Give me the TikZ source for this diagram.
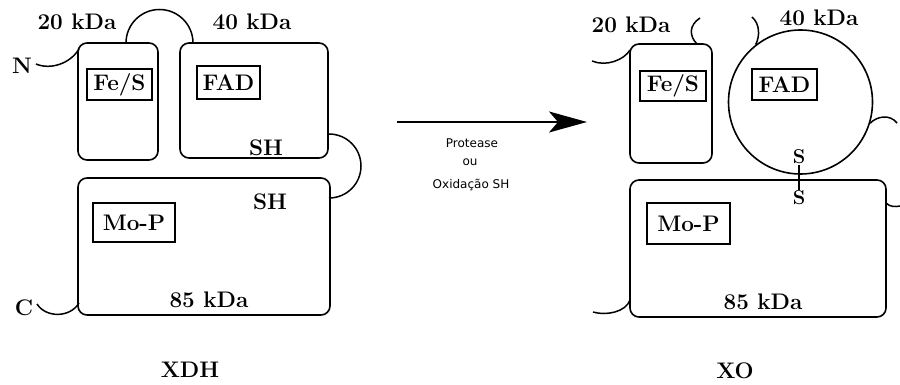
\documentclass[tikz,border=0pt]{standalone}
\usepackage{fontspec}
\newfontfamily\sansf{DejaVu Sans}
\usetikzlibrary{arrows.meta}
\begin{document}
\begin{tikzpicture}[x=1pt,y=-1pt,line width=1.6pt,
  blk/.style={draw,rounded corners=9pt,inner sep=0pt},
  inbox/.style={draw,inner sep=0pt,font=\fontsize{22.5}{24}\selectfont\bfseries},
  lbl/.style={inner sep=0pt,font=\fontsize{22.5}{24}\selectfont\bfseries},
  slbl/.style={inner sep=0.5pt,font=\fontsize{20}{22}\selectfont\bfseries},
  note/.style={inner sep=0pt,font=\sansf\fontsize{12}{13}\selectfont},
  link/.style={line width=1.5pt}]
\useasboundingbox (0,0) rectangle (900,385);
% ---------- XDH (left) ----------
\node[blk,minimum width=80pt,minimum height=117pt] (fesL) at (118,101.5) {};
\node[blk,minimum width=148pt,minimum height=115pt] (fadL) at (254,100.5) {};
\node[blk,minimum width=252pt,minimum height=137pt] (mopL) at (204,246.5) {};
\node[inbox,minimum width=65pt,minimum height=31pt] (fesLi) at (119.5,84.5) {Fe/S};
\node[inbox,minimum width=63pt,minimum height=33pt] (fadLi) at (228.5,82.5) {FAD};
\node[inbox,minimum width=82pt,minimum height=39pt] (mopLi) at (134,222.5) {Mo-P};
\node[lbl] (kd20L) at (77,22) {20 kDa};
\node[lbl] (kd40L) at (252,22) {40 kDa};
\node[lbl] (shA) at (266,148) {SH};
\node[lbl] (shB) at (270,202) {SH};
\node[lbl] (kd85L) at (209,300) {85 kDa};
\node[lbl] (nL) at (22,66) {N};
\node[lbl] (cL) at (24,308) {C};
\node[lbl] (xdh) at (190,370) {XDH};
\coordinate (a1) at (126,43);
\coordinate (b1) at (329,134);
\coordinate (n1) at (36,64);
\coordinate (n2) at (79,49);
\coordinate (c1) at (37,304);
\coordinate (c2) at (79,303);
\draw[link] (a1) arc[start angle=180,end angle=360,radius=33.5];
\draw[link] (b1) arc[start angle=-90,end angle=90,radius=32];
\draw[link] (n1) .. controls (50,70) and (70,64) .. (n2);
\draw[link] (c1) .. controls (46,318) and (70,318) .. (c2);
% ---------- arrow ----------
\coordinate (arS) at (397,122);
\coordinate (arE) at (587,122);
\draw[line width=2pt,-{Stealth[length=38pt,width=21pt,inset=9pt]}] (arS) -- (arE);
\node[note] (t1) at (472,143) {Protease};
\node[note] (t2) at (470,162) {ou};
\node[note] (t3) at (471,185) {Oxidação SH};
% ---------- XO (right) ----------
\node[blk,minimum width=82pt,minimum height=119pt] (fesR) at (671,103.5) {};
\node[draw,circle,inner sep=0pt,minimum size=144pt] (fadR) at (800.5,102) {};
\node[blk,minimum width=256pt,minimum height=137pt] (mopR) at (758,248.5) {};
\node[inbox,minimum width=66pt,minimum height=30pt] (fesRi) at (673,86) {Fe/S};
\node[inbox,minimum width=65pt,minimum height=31pt] (fadRi) at (784.5,84.5) {FAD};
\node[inbox,minimum width=83pt,minimum height=41pt] (mopRi) at (688.5,223.5) {Mo-P};
\node[lbl] (kd20R) at (631,25) {20 kDa};
\node[lbl] (kd40R) at (819,18) {40 kDa};
\node[lbl] (kd85R) at (763,302) {85 kDa};
\node[lbl] (xo) at (735,371) {XO};
\node[slbl] (sU) at (799,157) {S};
\node[slbl] (sD) at (799,198) {S};
\draw[link] (sU.south) -- (sD.north);
\coordinate (r1) at (592,61);
\coordinate (r2) at (630,50);
\coordinate (r3) at (697,44);
\coordinate (r4) at (700,18);
\coordinate (r5) at (752,17);
\coordinate (r6) at (897,123);
\coordinate (r7) at (886,203);
\coordinate (r8) at (900,206);
\coordinate (r9) at (630,300);
\coordinate (r10) at (593,312);
\draw[link] (r1) .. controls (606,67) and (624,60) .. (r2);
\draw[link] (r3) .. controls (689,36) and (689,25) .. (r4);
\draw[link] (fadR.128) .. controls (760,36) and (760,24) .. (r5);
\draw[link] (fadR.-17) .. controls (877,116) and (890,114) .. (r6);
\draw[link] (r7) .. controls (890,207) and (895,207) .. (r8);
\draw[link] (r9) .. controls (626,312) and (606,316) .. (r10);
\end{tikzpicture}
\end{document}
